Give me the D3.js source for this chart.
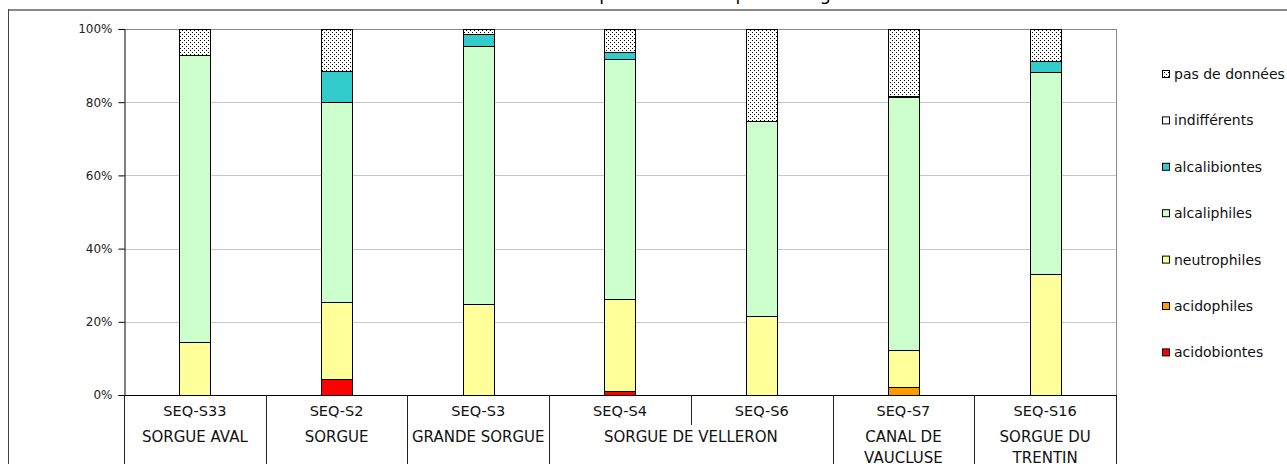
<!DOCTYPE html>
<html>
<head>
<meta charset="utf-8">
<script src="https://cdn.jsdelivr.net/npm/d3@7"></script>
<style>
  body { margin: 0; background: #fff; }
  svg { display: block; font-family: "DejaVu Sans", Verdana, sans-serif; }
</style>
</head>
<body>
<div id="chart"></div>
<script>
// stations and the river each one belongs to
const stations = ["SEQ-S33", "SEQ-S2", "SEQ-S3", "SEQ-S4", "SEQ-S6", "SEQ-S7", "SEQ-S16"];
const rivers = ["SORGUE AVAL", "SORGUE", "GRANDE SORGUE", "SORGUE DE VELLERON", "SORGUE DE VELLERON", "CANAL DE VAUCLUSE", "SORGUE DU TRENTIN"];

// % of taxa per pH group
const acidobiontes  = [0, 4.4, 0, 1.0, 0, 0, 0];
const acidophiles   = [0, 0, 0, 0, 0, 2.2, 0];
const neutrophiles  = [14.6, 21.0, 24.9, 25.1, 21.6, 10.1, 33.0];
const alcaliphiles  = [78.3, 54.6, 70.4, 65.8, 53.4, 69.0, 55.2];
const alcalibiontes = [0, 8.5, 3.3, 1.8, 0, 0.5, 3.0];
const indifferents  = [0, 0, 0, 0, 0, 0, 0];
const pasDeDonnees  = [7.1, 11.5, 1.4, 6.3, 25.0, 18.2, 8.8];

const seriesNames = ["acidobiontes", "acidophiles", "neutrophiles", "alcaliphiles", "alcalibiontes", "indifférents", "pas de données"];
const seriesValues = [acidobiontes, acidophiles, neutrophiles, alcaliphiles, alcalibiontes, indifferents, pasDeDonnees];
const yTicks = [0, 20, 40, 60, 80, 100];

const colors = {
  "acidobiontes": "#FF0000",
  "acidophiles": "#FF9900",
  "neutrophiles": "#FFFF99",
  "alcaliphiles": "#CCFFCC",
  "alcalibiontes": "#33CCCC",
  "indifférents": "#FFFFFF",
  "pas de données": "url(#dots)"
};

const width = 1287, height = 464;
const plot = {left: 124, right: 1116, top: 29, bottom: 395};

const svg = d3.select("#chart").append("svg").attr("width", width).attr("height", height);

// dotted pattern for "pas de données"
const pat = svg.append("defs").append("pattern")
  .attr("id", "dots").attr("patternUnits", "userSpaceOnUse")
  .attr("width", 4).attr("height", 4);
pat.append("rect").attr("width", 4).attr("height", 4).attr("fill", "#fff");
pat.append("rect").attr("x", 0).attr("y", 0).attr("width", 1).attr("height", 1).attr("fill", "#000");
pat.append("rect").attr("x", 2).attr("y", 2).attr("width", 1).attr("height", 1).attr("fill", "#000");

// title (mostly above the visible area, only descenders show)
svg.append("text").attr("x", 577).attr("y", -0.5)
  .attr("font-size", 17.5).attr("fill", "#000").text("Répartition des espèces en grandes classes");

// outer frame
svg.append("line").attr("x1", 8).attr("x2", width).attr("y1", 10).attr("y2", 10)
  .attr("stroke", "#888").attr("stroke-width", 2);
svg.append("line").attr("x1", 8.5).attr("x2", 8.5).attr("y1", 9).attr("y2", height)
  .attr("stroke", "#444").attr("stroke-width", 1);

const x = d3.scaleBand().domain(stations).range([plot.left, plot.right])
  .paddingInner(0.781).paddingOuter(0.3905);
const y = d3.scaleLinear().domain([0, 100]).range([plot.bottom, plot.top]);

// gridlines
svg.append("g").selectAll("line").data(yTicks.filter(d => d > 0)).enter().append("line")
  .attr("x1", plot.left).attr("x2", plot.right)
  .attr("y1", d => Math.round(y(d)) + 0.5).attr("y2", d => Math.round(y(d)) + 0.5)
  .attr("stroke", d => d == 100 ? "#888" : "#c8c8c8");
svg.append("line").attr("x1", plot.right + 0.5).attr("x2", plot.right + 0.5)
  .attr("y1", plot.top).attr("y2", plot.bottom).attr("stroke", "#888");

// stacked bars
const rows = stations.map(function(s, i) {
  let r = {station: s};
  seriesNames.forEach(function(n, k) { r[n] = seriesValues[k][i]; });
  return r;
});
const stack = d3.stack().keys(seriesNames)(rows);

svg.append("g").selectAll("g").data(stack).enter().append("g")
  .attr("fill", d => colors[d.key])
  .selectAll("rect").data(d => d.filter(p => p[1] - p[0] > 0)).enter().append("rect")
  .attr("x", d => Math.round(x(d.data.station)) + 0.5)
  .attr("width", Math.round(x.bandwidth()))
  .attr("y", d => Math.round(y(d[1])) + 0.5)
  .attr("height", d => Math.round(y(d[0])) - Math.round(y(d[1])))
  .attr("stroke", "#000").attr("stroke-width", 1);

// y axis
const yAxis = d3.axisLeft(y).tickValues(yTicks).tickFormat(d => d + "%").tickSize(6).tickPadding(6);
const ya = svg.append("g").attr("transform", "translate(" + (plot.left + 0.5) + ",0)").call(yAxis);
ya.select(".domain").attr("stroke", "#000");
ya.selectAll("text").attr("font-size", 12).attr("font-family", "DejaVu Sans, Verdana, sans-serif").attr("fill", "#222");

// x axis: base line
svg.append("line").attr("x1", plot.left).attr("x2", plot.right + 1)
  .attr("y1", plot.bottom + 0.5).attr("y2", plot.bottom + 0.5).attr("stroke", "#000");

// station labels
svg.append("g").selectAll("text").data(stations).enter().append("text")
  .attr("x", d => x(d) + x.bandwidth() / 2).attr("y", 416)
  .attr("text-anchor", "middle").attr("font-size", 14.5).attr("fill", "#111").text(d => d);

// river groups
const step = x.step();
let groups = [];
rivers.forEach(function(r, i) {
  if (groups.length && groups[groups.length - 1].name == r) groups[groups.length - 1].end = i;
  else groups.push({name: r, start: i, end: i});
});

// separators between stations
stations.forEach(function(s, i) {
  if (i == 0) return;
  const xx = Math.round(plot.left + step * i) + 0.5;
  const full = rivers[i] != rivers[i - 1];
  svg.append("line").attr("x1", xx).attr("x2", xx)
    .attr("y1", plot.bottom).attr("y2", full ? height : 425).attr("stroke", "#222");
});
[plot.left, plot.right].forEach(function(xx) {
  svg.append("line").attr("x1", xx + 0.5).attr("x2", xx + 0.5)
    .attr("y1", plot.bottom).attr("y2", height).attr("stroke", "#222");
});

groups.forEach(function(g) {
  const cx = plot.left + step * (g.start + g.end + 1) / 2;
  const maxW = step * (g.end - g.start + 1) - 6;
  const t = svg.append("text").attr("x", cx).attr("y", 442)
    .attr("text-anchor", "middle").attr("font-size", 15).attr("fill", "#111");
  const words = g.name.split(" ");
  let line = [];
  let ts = t.append("tspan").attr("x", cx).attr("dy", 0);
  words.forEach(function(w) {
    line.push(w);
    ts.text(line.join(" "));
    if (ts.node().getComputedTextLength() > maxW && line.length > 1) {
      line.pop();
      ts.text(line.join(" "));
      line = [w];
      ts = t.append("tspan").attr("x", cx).attr("dy", 21).text(w);
    }
  });
});

// legend
const legend = svg.append("g").selectAll("g").data(seriesNames.slice().reverse()).enter().append("g")
  .attr("transform", (d, i) => "translate(1162," + (74 + i * 46.4) + ")");
legend.append("rect").attr("x", 0.5).attr("y", -3.5).attr("width", 7).attr("height", 7)
  .attr("fill", d => colors[d]).attr("stroke", "#000");
legend.append("text").attr("x", 12).attr("y", 5).attr("font-size", 14).attr("fill", "#111").text(d => d);
</script>
</body>
</html>
